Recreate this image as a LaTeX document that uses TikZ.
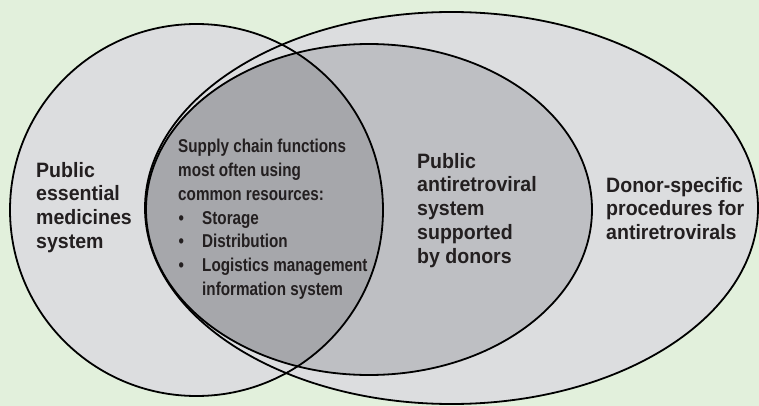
\documentclass[tikz,border=0pt]{standalone}
\usepackage{fontspec}
\setmainfont{Liberation Sans}[FakeStretch=0.94]
\newfontfamily\listfont{Liberation Sans}[FakeStretch=0.82]
\definecolor{bggreen}{HTML}{E2F0DC}
\definecolor{lightgr}{HTML}{DCDDDF}
\definecolor{midgr}{HTML}{BEBFC3}
\definecolor{darkgr}{HTML}{A6A7AB}
\definecolor{txt}{HTML}{231F20}
\tikzset{
  outline/.style={draw=black, line width=1.8pt},
  biglabel/.style={anchor=base west, inner sep=0pt, text=txt,
    font=\fontsize{20.8}{23.8}\selectfont\bfseries},
  listlabel/.style={anchor=base west, inner sep=0pt, text=txt,
    font=\listfont\fontsize{18.6}{23.7}\selectfont\bfseries},
}
\newcommand{\txtlines}[1]{\begin{tabular}[t]{@{}l@{}}#1\end{tabular}}
\newcommand{\bul}{\makebox[24pt][l]{\hspace{0.5pt}\textbullet}}
\begin{document}
\begin{tikzpicture}[x=1pt,y=-1pt]
\useasboundingbox (0,0) rectangle (759,406);
\fill[bggreen] (0,0) rectangle (759,406);
% fills
\fill[lightgr] (451.5,208) ellipse [x radius=306.5, y radius=196];
\fill[lightgr] (196.5,210) ellipse [x radius=186.5, y radius=186];
\fill[midgr] (369,209.5) ellipse [x radius=223, y radius=165.5];
\begin{scope}
  \clip (196.5,210) ellipse [x radius=186.5, y radius=186];
  \fill[darkgr] (369,209.5) ellipse [x radius=223, y radius=165.5];
\end{scope}
% outlines
\draw[outline] (451.5,208) ellipse [x radius=306.5, y radius=196];
\draw[outline] (369,209.5) ellipse [x radius=223, y radius=165.5];
\draw[outline] (196.5,210) ellipse [x radius=186.5, y radius=186];
% labels
\node[biglabel] (pems) at (36,177) {\txtlines{Public\\essential\\medicines\\system}};
\node[listlabel] (supply) at (178,153) {\txtlines{Supply chain functions\\most often using\\common resources:\\
\bul Storage\\\bul Distribution\\\bul Logistics management\\\hspace{24pt}information system}};
\node[biglabel] (parv) at (417,168) {\txtlines{Public\\antiretroviral\\system\\supported\\by donors}};
\node[biglabel] (donor) at (606,192) {\txtlines{Donor-specific\\procedures for\\antiretrovirals}};
\end{tikzpicture}
\end{document}
